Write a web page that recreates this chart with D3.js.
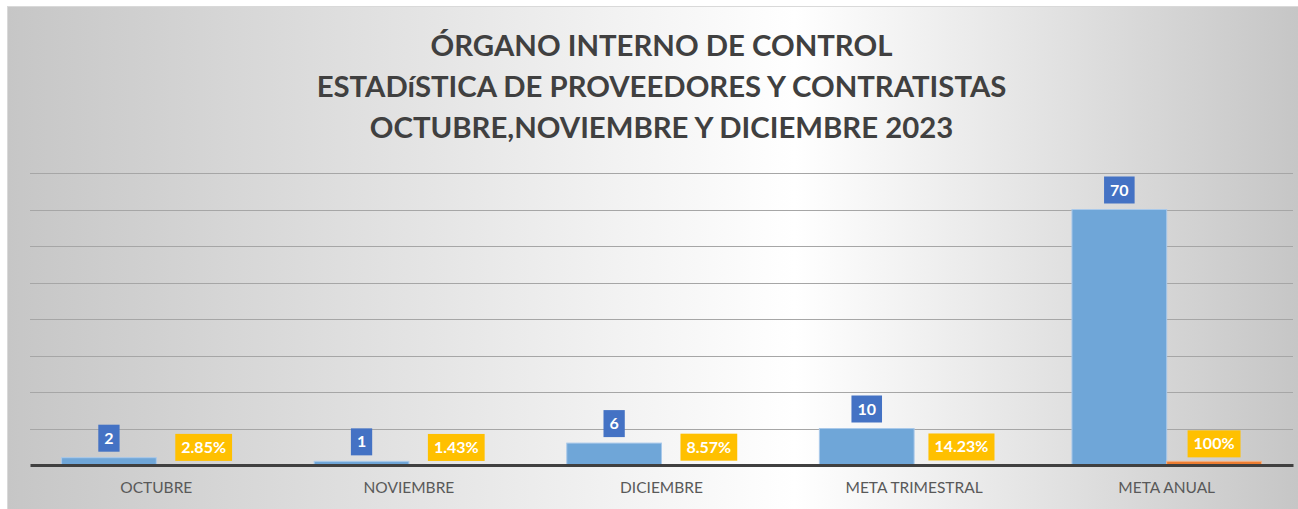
<!DOCTYPE html>
<html>
<head>
<meta charset="utf-8">
<script src="https://cdn.jsdelivr.net/npm/d3@7"></script>
<style>
  body { margin: 0; background: #ffffff; }
  svg { display: block; }
</style>
</head>
<body>
<div id="chart"></div>
<script>
// datos
const categorias = ["OCTUBRE", "NOVIEMBRE", "DICIEMBRE", "META TRIMESTRAL", "META ANUAL"];
const cantidades = [2, 1, 6, 10, 70];
const porcentajes = [0.0285, 0.0143, 0.0857, 0.1423, 1];
const etiquetasPct = ["2.85%", "1.43%", "8.57%", "14.23%", "100%"];
const yTicks = [0, 10, 20, 30, 40, 50, 60, 70, 80];
const titulo = [
  "ÓRGANO INTERNO DE CONTROL",
  "ESTADíSTICA DE PROVEEDORES Y CONTRATISTAS",
  "OCTUBRE,NOVIEMBRE Y DICIEMBRE 2023"
];

const W = 1298, H = 509;
const plot = {left: 30, right: 1293, top: 173, bottom: 465};

const svg = d3.select("#chart").append("svg")
  .attr("width", W)
  .attr("height", H);

// fondo degradado
const defs = svg.append("defs");
const grad = defs.append("linearGradient")
  .attr("id", "fondo")
  .attr("gradientUnits", "userSpaceOnUse")
  .attr("x1", 7).attr("y1", 0).attr("x2", 1298).attr("y2", 0);
grad.append("stop").attr("offset", 0).attr("stop-color", "#c6c6c6");
grad.append("stop").attr("offset", 0.61).attr("stop-color", "#ffffff");
grad.append("stop").attr("offset", 1).attr("stop-color", "#c6c6c6");

svg.append("rect")
  .attr("x", 7.5).attr("y", 6.5)
  .attr("width", W - 7).attr("height", H - 6)
  .attr("fill", "url(#fondo)")
  .attr("stroke", "#d9d9d9");

// titulo
const tituloG = svg.append("g");
const tLines = tituloG.selectAll("text")
  .data(titulo)
  .enter()
  .append("text")
  .attr("x", (plot.left + plot.right) / 2)
  .attr("y", (d, i) => 56 + i * 41)
  .attr("text-anchor", "middle")
  .style("font-family", "Lato, 'Open Sans', sans-serif")
  .style("font-weight", "bold")
  .style("font-size", "30px")
  .style("fill", "#404040")
  .text(d => d);
// ajustar tamaño para que la segunda linea mida ~690px
const w2 = tLines.nodes()[1].getComputedTextLength();
tLines.style("font-size", (30 * 690 / w2) + "px");

// escalas
const x0 = d3.scaleBand()
  .domain(categorias)
  .range([plot.left, plot.right])
  .paddingInner(0.25)
  .paddingOuter(0.125);

const x1 = d3.scaleBand()
  .domain(["cantidad", "porcentaje"])
  .range([0, x0.bandwidth()]);

const y = d3.scaleLinear()
  .domain([0, 80])
  .range([plot.bottom, plot.top]);

// lineas de cuadricula
svg.append("g")
  .selectAll("line")
  .data(yTicks.filter(d => d > 0))
  .enter()
  .append("line")
  .attr("x1", plot.left).attr("x2", plot.right)
  .attr("y1", d => Math.round(y(d)) + 0.5)
  .attr("y2", d => Math.round(y(d)) + 0.5)
  .attr("stroke", "#a6a6a6")
  .attr("stroke-width", 1);

// barras cantidad
svg.append("g")
  .selectAll("rect")
  .data(categorias)
  .enter()
  .append("rect")
  .attr("x", d => x0(d) + x1("cantidad"))
  .attr("y", (d, i) => y(cantidades[i]))
  .attr("width", x1.bandwidth())
  .attr("height", (d, i) => y(0) - y(cantidades[i]))
  .attr("fill", "#6fa6d8")
  .attr("stroke", "#a9c9ea")
  .attr("stroke-width", 1);

// barras porcentaje
svg.append("g")
  .selectAll("rect")
  .data(categorias)
  .enter()
  .append("rect")
  .attr("x", d => x0(d) + x1("porcentaje"))
  .attr("y", (d, i) => y(porcentajes[i]))
  .attr("width", x1.bandwidth())
  .attr("height", (d, i) => y(0) - y(porcentajes[i]))
  .attr("fill", "#ed7d31")
  .attr("stroke", "#f4b183")
  .attr("stroke-width", 1);

// eje x
const xAxis = svg.append("g")
  .attr("transform", "translate(0," + plot.bottom + ")")
  .call(d3.axisBottom(x0).tickSize(0).tickPadding(17));
xAxis.select(".domain")
  .attr("stroke", "#404040")
  .attr("stroke-width", 3);
xAxis.selectAll("text")
  .style("font-family", "Lato, 'Open Sans', sans-serif")
  .style("font-size", "15.5px")
  .style("fill", "#595959");

// etiquetas de datos
function etiqueta(g, cx, bottom, txt, color) {
  const t = g.append("text")
    .attr("x", cx)
    .attr("y", bottom - 8)
    .attr("text-anchor", "middle")
    .style("font-family", "Lato, 'Open Sans', sans-serif")
    .style("font-weight", "bold")
    .style("font-size", "16px")
    .style("fill", "#ffffff")
    .text(txt);
  const tw = t.node().getComputedTextLength();
  g.insert("rect", "text")
    .attr("x", cx - tw / 2 - 6)
    .attr("y", bottom - 27)
    .attr("width", tw + 12)
    .attr("height", 27)
    .attr("fill", color);
}

categorias.forEach((c, i) => {
  const g1 = svg.append("g");
  etiqueta(g1, x0(c) + x1("cantidad") + x1.bandwidth() / 2,
    y(cantidades[i]) - 6, String(cantidades[i]), "#4472c4");
  const g2 = svg.append("g");
  etiqueta(g2, x0(c) + x1("porcentaje") + x1.bandwidth() / 2,
    y(porcentajes[i]) - 4, etiquetasPct[i], "#ffc000");
});
</script>
</body>
</html>
